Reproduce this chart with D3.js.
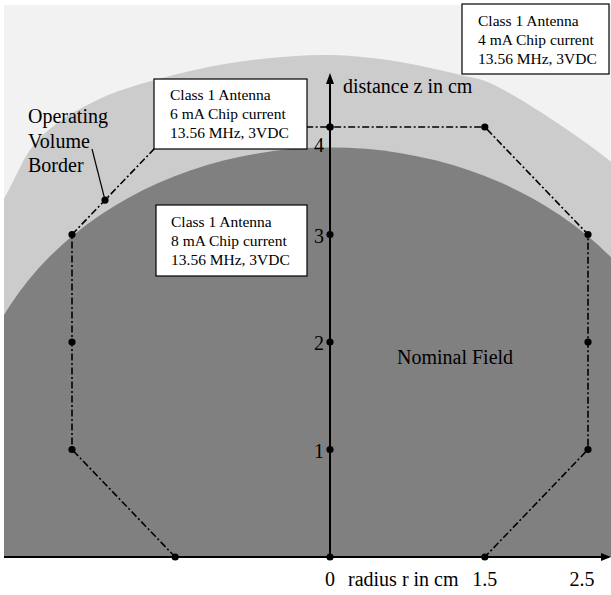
<!DOCTYPE html>
<html>
<head>
<meta charset="utf-8">
<script src="https://cdn.jsdelivr.net/npm/d3@7"></script>
<style>
  html, body { margin: 0; padding: 0; background: #fff; }
  svg { display: block; }
  text { font-family: "Liberation Serif", "Times New Roman", serif; fill: #000; }
</style>
</head>
<body>
<div id="chart"></div>
<script>
// ---- data (cm) ----
const rTicks = [0, 1.5, 2.5];
const rTickLabels = ["0", "1.5", "2.5"];
const zTicks = [1, 2, 3, 4];
const zTickLabels = ["1", "2", "3", "4"];

// Operating volume border (dash-dot polygon), r and z in cm
const borderR = [-1.5, -2.5, -2.5, -2.5, -1.5, 0, 1.5, 2.5, 2.5, 2.5, 1.5];
const borderZ = [0, 1, 2, 3, 4, 4, 4, 3, 2, 1, 0];

// Light (4 mA) field boundary
const lightR = [-3.6, -3.15, -2.83, -2.26, -1.31, -0.6, 0, 0.58, 1.28, 1.55, 2.73, 3.1];
const lightZ = [2.6, 3.35, 3.88, 4.25, 4.53, 4.64, 4.67, 4.62, 4.48, 4.41, 3.67, 3.3];

// Dark (8 mA) nominal field: ellipse centre and radii (cm)
const darkCenterR = [0];
const darkCenterZ = [1.02];
const darkRadiusR = [3.52];
const darkRadiusZ = [2.79];

// pointer dot on border
const pointerR = [-2.18];
const pointerZ = [3.32];

const boxes = [
  { lines: ["Class 1 Antenna", "4 mA Chip current", "13.56 MHz, 3VDC"] },
  { lines: ["Class 1 Antenna", "6 mA Chip current", "13.56 MHz, 3VDC"] },
  { lines: ["Class 1 Antenna", "8 mA Chip current", "13.56 MHz, 3VDC"] }
];

// ---- layout ----
const W = 611, H = 595;
const svg = d3.select("#chart").append("svg").attr("width", W).attr("height", H);

const x = d3.scaleLinear().domain([-2.5, 2.5]).range([72, 588]);
const y = d3.scaleLinear().domain([0, 4]).range([557, 127]);

const plotL = 4, plotT = 5, plotR = W, plotB = y(0);

svg.append("clipPath").attr("id", "plotclip")
  .append("rect").attr("x", plotL).attr("y", plotT).attr("width", plotR - plotL).attr("height", plotB - plotT);

const g = svg.append("g").attr("clip-path", "url(#plotclip)");
g.append("rect").attr("x", plotL).attr("y", plotT).attr("width", plotR - plotL).attr("height", plotB - plotT)
  .attr("fill", "#f2f2f2");

// light field region
const lightPts = lightR.map((r, i) => [r, lightZ[i]]);
const lightLine = d3.line().x(d => x(d[0])).y(d => y(d[1])).curve(d3.curveCatmullRom);
const lp = lightLine(lightPts);
const first = lightPts[0], last = lightPts[lightPts.length - 1];
g.append("path")
  .attr("d", lp + `L${x(last[0])},${y(-0.1)}L${x(first[0])},${y(-0.1)}Z`)
  .attr("fill", "#cccccc");

// dark field ellipse
g.append("ellipse")
  .attr("cx", x(darkCenterR[0])).attr("cy", y(darkCenterZ[0]))
  .attr("rx", x(darkRadiusR[0]) - x(0)).attr("ry", y(0) - y(darkRadiusZ[0]))
  .attr("fill", "#808080");
g.append("rect")
  .attr("x", x(-darkRadiusR[0])).attr("y", y(darkCenterZ[0]))
  .attr("width", 2 * (x(darkRadiusR[0]) - x(0))).attr("height", y(0) - y(darkCenterZ[0]) + 2)
  .attr("fill", "#808080");

// border polygon (dash-dot)
const borderPts = borderR.map((r, i) => [r, borderZ[i]]);
svg.append("path")
  .attr("d", d3.line().x(d => x(d[0])).y(d => y(d[1]))(borderPts))
  .attr("fill", "none").attr("stroke", "#000").attr("stroke-width", 1.6)
  .attr("stroke-dasharray", "7,2.5,2,2.5");

// axes
const axisW = 2;
svg.append("line").attr("x1", plotL).attr("x2", W - 2).attr("y1", y(0)).attr("y2", y(0))
  .attr("stroke", "#000").attr("stroke-width", axisW);
svg.append("path").attr("d", `M${W},${y(0)}L${W - 10},${y(0) - 4}L${W - 10},${y(0) + 4}Z`).attr("fill", "#000");
const zTop = 73;
svg.append("line").attr("x1", x(0)).attr("x2", x(0)).attr("y1", y(0)).attr("y2", zTop + 4)
  .attr("stroke", "#000").attr("stroke-width", axisW);
svg.append("path").attr("d", `M${x(0)},${zTop}L${x(0) - 4},${zTop + 11}L${x(0) + 4},${zTop + 11}Z`).attr("fill", "#000");

// dots
const dotData = borderPts.concat([[0, 0], [0, 1], [0, 2], [0, 3], [0, 4], [pointerR[0], pointerZ[0]]]);
svg.selectAll("circle.dot").data(dotData).enter().append("circle")
  .attr("class", "dot").attr("cx", d => x(d[0])).attr("cy", d => y(d[1])).attr("r", 3.6).attr("fill", "#000");

// pointer line
svg.append("line").attr("x1", 92).attr("y1", 149).attr("x2", x(pointerR[0])).attr("y2", y(pointerZ[0]))
  .attr("stroke", "#000").attr("stroke-width", 1.2);

// tick labels
svg.selectAll("text.xt").data(rTicks).enter().append("text")
  .attr("class", "xt").attr("x", (d, i) => x(d) - (i === 2 ? 6 : 0)).attr("y", 586)
  .attr("text-anchor", "middle").attr("font-size", 20).text((d, i) => rTickLabels[i]);
svg.append("text").attr("x", 348).attr("y", 586).attr("font-size", 20).text("radius r in cm");

svg.selectAll("text.zt").data(zTicks).enter().append("text")
  .attr("class", "zt").attr("x", 324)
  .attr("y", (d, i) => i === 3 ? y(d) + 25 : y(d) + 8)
  .attr("text-anchor", "end").attr("font-size", 20).text((d, i) => zTickLabels[i]);
svg.append("text").attr("x", 343).attr("y", 93).attr("font-size", 20).text("distance z in cm");

svg.append("text").attr("x", 397).attr("y", 364).attr("font-size", 20).text("Nominal Field");

const ovb = ["Operating", "Volume", "Border"];
svg.selectAll("text.ovb").data(ovb).enter().append("text")
  .attr("class", "ovb").attr("x", 28).attr("y", (d, i) => 123 + i * 24.5)
  .attr("font-size", 20).text(d => d);

// boxes
const boxPos = [
  { x: 462, y: 4, w: 147, h: 70, tx: 478, ty: 26 },
  { x: 154, y: 79, w: 153, h: 70, tx: 170, ty: 100 },
  { x: 156, y: 205, w: 151, h: 71, tx: 171, ty: 227 }
];
boxes.forEach((b, i) => {
  const p = boxPos[i];
  const bg = svg.append("g");
  bg.append("rect").attr("x", p.x).attr("y", p.y).attr("width", p.w).attr("height", p.h)
    .attr("fill", "#fff").attr("stroke", "#000").attr("stroke-width", 1.2);
  b.lines.forEach((t, j) => {
    bg.append("text").attr("x", p.tx).attr("y", p.ty + j * 19).attr("font-size", 15.5).text(t);
  });
});
</script>
</body>
</html>
